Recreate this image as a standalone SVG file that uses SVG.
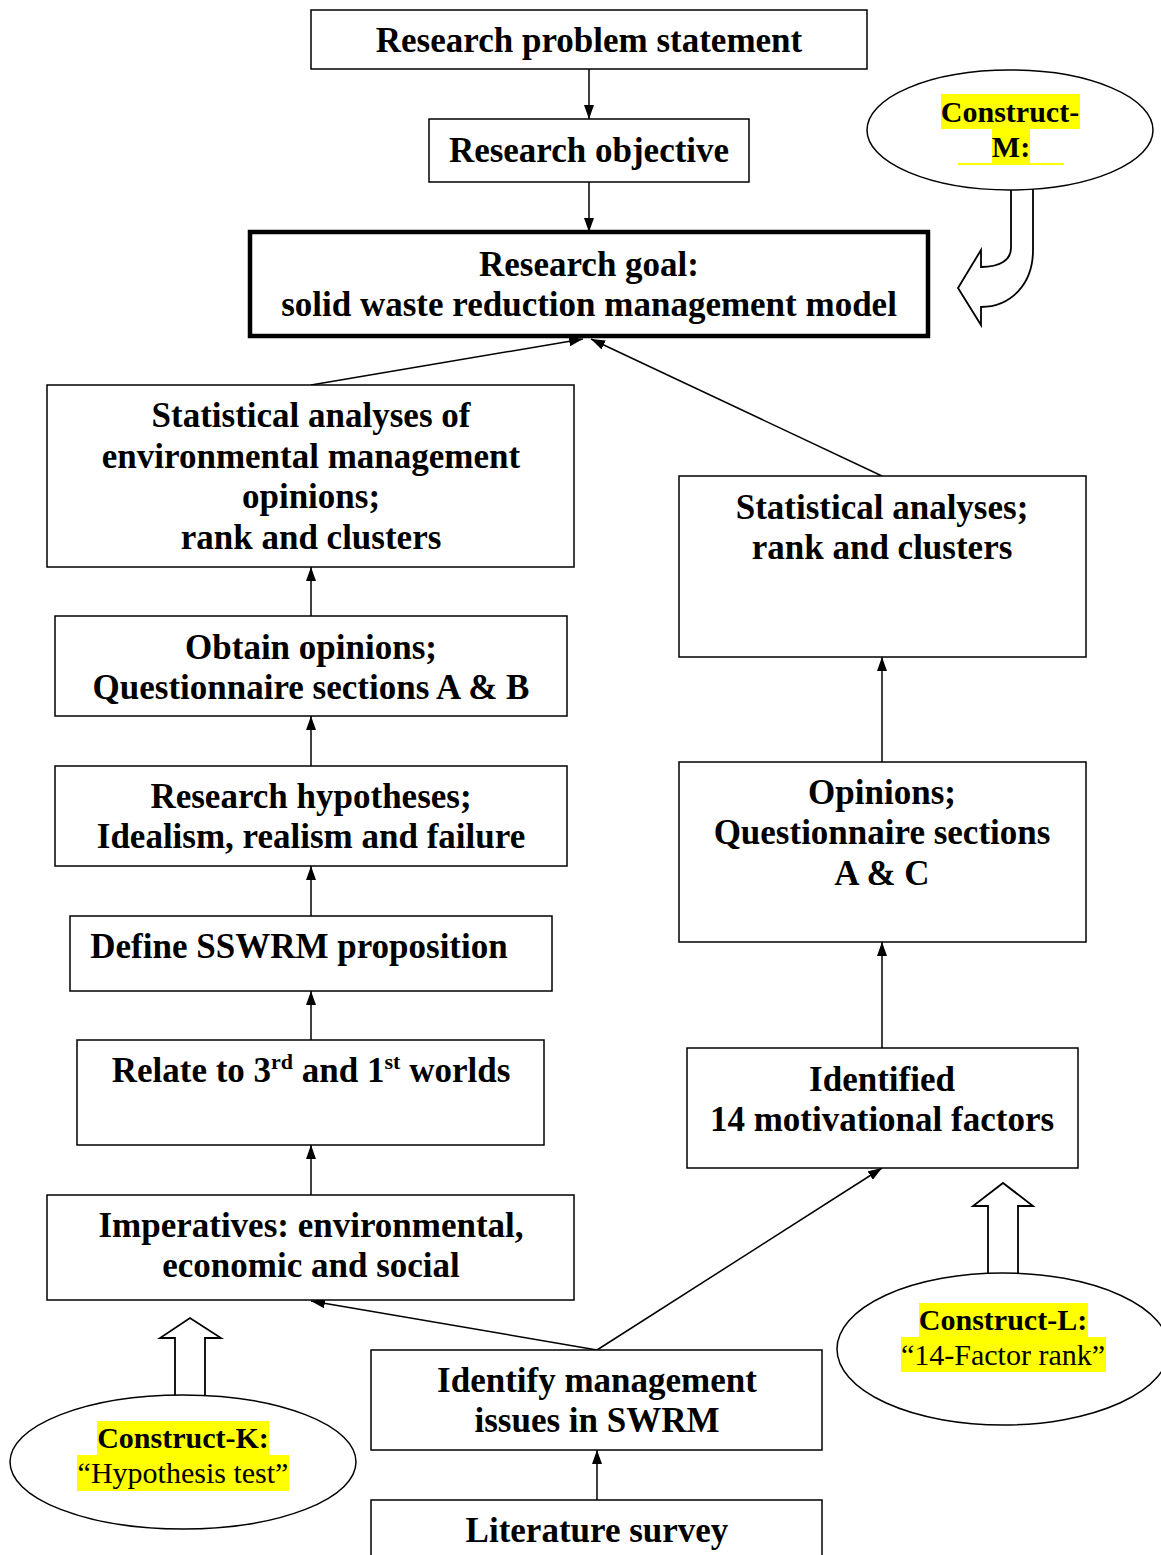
<svg xmlns="http://www.w3.org/2000/svg" width="1161" height="1555" viewBox="0 0 1161 1555">
<defs>
<style>
.box{fill:#fff;stroke:#000;stroke-width:1.5}
.thick{fill:#fff;stroke:#000;stroke-width:4.5}
.t{font-family:"Liberation Serif","Times New Roman",serif;font-weight:bold;font-size:35px;text-anchor:middle;fill:#000}
.c{font-family:"Liberation Serif","Times New Roman",serif;font-size:30px;text-anchor:middle;fill:#000}
.cb{font-weight:bold}
.hl{fill:#ffff00}
.conn{stroke:#000;stroke-width:1.5;fill:none;marker-end:url(#ah)}
.blk{fill:#fff;stroke:#000;stroke-width:1.8}
.ell{fill:#fff;stroke:#000;stroke-width:1.5}
</style>
<marker id="ah" viewBox="0 0 14 10" refX="14" refY="5" markerWidth="14" markerHeight="10" markerUnits="userSpaceOnUse" orient="auto">
<path d="M0,0 L14,5 L0,10 Z" fill="#000"/>
</marker>
</defs>
<rect width="1161" height="1555" fill="#fff"/>

<g id="connectors">
<line class="conn" x1="589" y1="69" x2="589" y2="119"/>
<line class="conn" x1="589" y1="182" x2="589" y2="232"/>
<line class="conn" x1="311" y1="385" x2="583" y2="339"/>
<line class="conn" x1="882" y1="476" x2="591" y2="339"/>
<line class="conn" x1="311" y1="616" x2="311" y2="567"/>
<line class="conn" x1="311" y1="766" x2="311" y2="716"/>
<line class="conn" x1="311" y1="916" x2="311" y2="866"/>
<line class="conn" x1="311" y1="1040" x2="311" y2="991"/>
<line class="conn" x1="311" y1="1195" x2="311" y2="1145"/>
<line class="conn" x1="882" y1="762" x2="882" y2="657"/>
<line class="conn" x1="882" y1="1048" x2="882" y2="942"/>
<line class="conn" x1="597" y1="1350" x2="311" y2="1301"/>
<line class="conn" x1="597" y1="1350" x2="882" y2="1168"/>
<line class="conn" x1="597" y1="1500" x2="597" y2="1450"/>
</g>

<g id="n-problem">
<rect class="box" x="311" y="10" width="556" height="59"/>
<text class="t" x="589" y="52">Research problem statement</text>
</g>
<g id="n-objective">
<rect class="box" x="429" y="119" width="320" height="63"/>
<text class="t" x="589" y="162">Research objective</text>
</g>
<g id="n-goal">
<rect class="thick" x="250" y="232" width="678" height="104"/>
<text class="t" x="589" y="276">Research goal:</text>
<text class="t" x="589" y="316">solid waste reduction management model</text>
</g>
<g id="n-stat-env">
<rect class="box" x="47" y="385" width="527" height="182"/>
<text class="t" x="311" y="427">Statistical analyses of</text>
<text class="t" x="311" y="468">environmental management</text>
<text class="t" x="311" y="508">opinions;</text>
<text class="t" x="311" y="549">rank and clusters</text>
</g>
<g id="n-stat-rank">
<rect class="box" x="679" y="476" width="407" height="181"/>
<text class="t" x="882" y="519">Statistical analyses;</text>
<text class="t" x="882" y="559">rank and clusters</text>
</g>
<g id="n-obtain">
<rect class="box" x="55" y="616" width="512" height="100"/>
<text class="t" x="311" y="659">Obtain opinions;</text>
<text class="t" x="311" y="699">Questionnaire sections A &amp; B</text>
</g>
<g id="n-hypotheses">
<rect class="box" x="55" y="766" width="512" height="100"/>
<text class="t" x="311" y="808">Research hypotheses;</text>
<text class="t" x="311" y="848">Idealism, realism and failure</text>
</g>
<g id="n-define">
<rect class="box" x="70" y="916" width="482" height="75"/>
<text class="t" x="299" y="958">Define SSWRM proposition</text>
</g>
<g id="n-relate">
<rect class="box" x="77" y="1040" width="467" height="105"/>
<text class="t" x="311" y="1082">Relate to 3<tspan font-size="22" dy="-13">rd</tspan><tspan dy="13"> and 1</tspan><tspan font-size="22" dy="-13">st</tspan><tspan dy="13"> worlds</tspan></text>
</g>
<g id="n-imperatives">
<rect class="box" x="47" y="1195" width="527" height="105"/>
<text class="t" x="311" y="1237">Imperatives: environmental,</text>
<text class="t" x="311" y="1277">economic and social</text>
</g>
<g id="n-opinions">
<rect class="box" x="679" y="762" width="407" height="180"/>
<text class="t" x="882" y="804">Opinions;</text>
<text class="t" x="882" y="844">Questionnaire sections</text>
<text class="t" x="882" y="885">A &amp; C</text>
</g>
<g id="n-identified">
<rect class="box" x="687" y="1048" width="391" height="120"/>
<text class="t" x="882" y="1091">Identified</text>
<text class="t" x="882" y="1131">14 motivational factors</text>
</g>
<g id="n-identify">
<rect class="box" x="371" y="1350" width="451" height="100"/>
<text class="t" x="597" y="1392">Identify management</text>
<text class="t" x="597" y="1432">issues in SWRM</text>
</g>
<g id="n-literature">
<rect class="box" x="371" y="1500" width="451" height="70"/>
<text class="t" x="597" y="1542">Literature survey</text>
</g>

<g id="construct-m">
<path class="blk" d="M1011,185 L1011,248 C1011,260 1000,267 981,267 L981,250 L958,288 L981,325 L981,307 C1010,307 1033,285 1033,250 L1033,185 Z"/>
<ellipse class="ell" cx="1010" cy="130" rx="143" ry="60"/>
<rect class="hl" x="941" y="94" width="139" height="35"/>
<rect class="hl" x="992" y="129" width="38" height="35"/>
<rect class="hl" x="958" y="163" width="106" height="2"/>
<text class="c cb" x="1010" y="122">Construct-</text>
<text class="c cb" x="1011" y="157">M:</text>
</g>
<g id="construct-k">
<path class="blk" d="M175,1396 L175,1338 L160,1338 L190,1318 L221,1338 L205,1338 L205,1396 Z"/>
<ellipse class="ell" cx="183" cy="1462" rx="173" ry="67"/>
<rect class="hl" x="97" y="1421" width="172" height="34"/>
<rect class="hl" x="77" y="1455" width="212" height="36"/>
<text class="c cb" x="183" y="1448">Construct-K:</text>
<text class="c" x="183" y="1483">“Hypothesis test”</text>
</g>
<g id="construct-l">
<path class="blk" d="M988,1275 L988,1206 L973,1206 L1003,1183 L1033,1206 L1018,1206 L1018,1275 Z"/>
<ellipse class="ell" cx="1003" cy="1349" rx="166" ry="76"/>
<rect class="hl" x="919" y="1303" width="169" height="34"/>
<rect class="hl" x="901" y="1337" width="205" height="35"/>
<text class="c cb" x="1003" y="1330">Construct-L:</text>
<text class="c" x="1003" y="1365">“14-Factor rank”</text>
</g>
</svg>
